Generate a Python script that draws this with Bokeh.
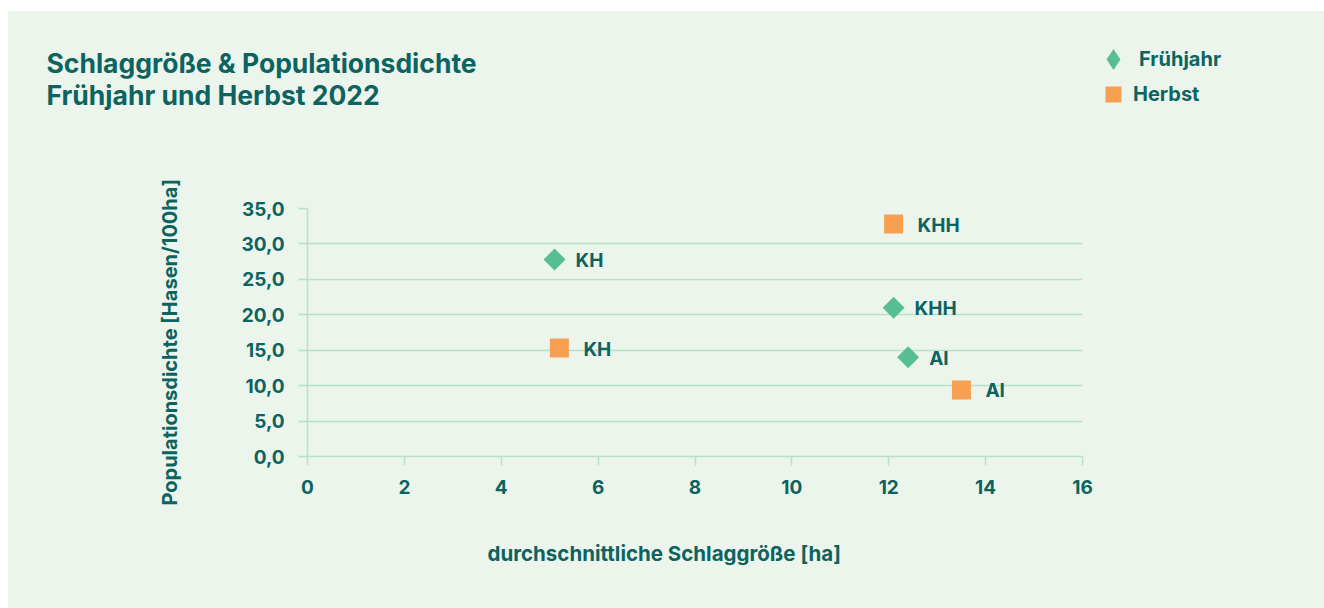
import numpy as np
from bokeh.plotting import figure
from bokeh.layouts import column
from bokeh.models import (Range1d, FixedTicker, Legend, LegendItem, ColumnDataSource,
                          Title, Label)
from bokeh.core.properties import value
from bokeh.embed import file_html
from bokeh.resources import INLINE

# ---- data ----
regions_fj = ["KH", "KHH", "AI"]
fj_size = [5.1, 12.1, 12.4]        # durchschnittliche Schlaggröße [ha]
fj_density = [27.8, 21.0, 14.0]    # Hasen/100ha

regions_hb = ["KH", "KHH", "AI"]
hb_size = [5.2, 12.1, 13.5]
hb_density = [15.3, 32.8, 9.4]

x_ticks = [0, 2, 4, 6, 8, 10, 12, 14, 16]
y_ticks = [0, 5, 10, 15, 20, 25, 30, 35]
y_tick_labels = ["0,0", "5,0", "10,0", "15,0", "20,0", "25,0", "30,0", "35,0"]

title_lines = ["Schlaggröße & Populationsdichte", "Frühjahr und Herbst 2022"]
x_label = "durchschnittliche Schlaggröße [ha]"
y_label = "Populationsdichte [Hasen/100ha]"
series_names = ["Frühjahr", "Herbst"]

# ---- style ----
FONT = "Inter"
TEXT = "#0c6360"
GREEN = "#57be93"
ORANGE = "#f7a052"
GRID = "#b6e0cb"
BG = "#ebf5ec"

PX, PY = 8, 11            # page position of the panel
W = 1316
TOP_H = 150               # header strip (title + legend)
MAIN_H = 597 - TOP_H
FL, FR, FT, FB = 307, 1082, 208, 456  # plot frame in page px
XMAX, YMAX = 16, 35

src_fj = ColumnDataSource(dict(x=fj_size, y=fj_density, name=regions_fj))
src_hb = ColumnDataSource(dict(x=hb_size, y=hb_density, name=regions_hb))

# ================= header strip =================
top = figure(width=W, height=TOP_H, output_backend="svg", toolbar_location=None,
             x_range=Range1d(0, W), y_range=Range1d(TOP_H, 0),
             x_axis_type=None, y_axis_type=None,
             min_border_left=0, min_border_right=0, min_border_top=0, min_border_bottom=0)
top.frame_align = False
top.background_fill_color = BG
top.border_fill_color = BG
top.outline_line_color = None
top.grid.visible = False
top.title.visible = False

for line, cy in zip(title_lines, [62, 94]):
    top.add_layout(Label(x=46 - PX, y=cy - PY, text=line, text_font=FONT,
                         text_font_style="bold", text_font_size="26.5px",
                         text_color=TEXT, text_baseline="middle", text_align="left"))

# legend-only renderers: a single NaN point, so nothing is drawn in the strip
legend_src = ColumnDataSource(dict(x=[np.nan], y=[np.nan]))
r_leg_fj = top.scatter("x", "y", source=legend_src, marker="diamond",
                       fill_color=GREEN, line_color=None)
r_leg_hb = top.scatter("x", "y", source=legend_src, marker="square",
                       fill_color=ORANGE, line_color=None)

def make_legend(name, renderer, glyph, cx, cy, label_left):
    left = cx - glyph / 2 - PX
    bottom_from_top = cy + glyph / 2 - PY
    lg = Legend(items=[LegendItem(label=name, renderers=[renderer])],
                location=(left, TOP_H - bottom_from_top),
                glyph_width=glyph, glyph_height=glyph,
                label_standoff=int(round(label_left - PX - (left + glyph))),
                padding=0, margin=0, spacing=0,
                background_fill_alpha=0, border_line_alpha=0,
                label_text_font=FONT, label_text_font_style="bold",
                label_text_font_size="20px", label_text_color=TEXT)
    top.add_layout(lg, "center")

make_legend(series_names[0], r_leg_fj, 52, 1113, 59, 1131)
make_legend(series_names[1], r_leg_hb, 40, 1113, 94, 1131)

# ================= main chart =================
p = figure(width=W, height=MAIN_H, output_backend="svg", toolbar_location=None,
           x_range=Range1d(0, XMAX), y_range=Range1d(0, YMAX),
           min_border_left=FL - PX, min_border_right=PX + W - FR,
           min_border_top=FT - (PY + TOP_H), min_border_bottom=PY + TOP_H + MAIN_H - FB)
p.frame_align = False
p.background_fill_color = BG
p.border_fill_color = BG
p.outline_line_color = None
p.title.visible = False

p.xgrid.visible = False
p.ygrid.grid_line_color = GRID
p.ygrid.grid_line_width = 1.5
p.ygrid.ticker = FixedTicker(ticks=y_ticks)

for ax in (p.xaxis[0], p.yaxis[0]):
    ax.axis_line_color = GRID
    ax.axis_line_width = 1.5
    ax.major_tick_line_color = GRID
    ax.major_tick_line_width = 1.5
    ax.major_tick_in = 0
    ax.major_tick_out = 9
    ax.minor_tick_line_color = None
    ax.major_label_text_font = FONT
    ax.major_label_text_font_style = "bold"
    ax.major_label_text_font_size = "19px"
    ax.major_label_text_color = TEXT

p.xaxis.ticker = FixedTicker(ticks=x_ticks)
p.xaxis.major_label_standoff = 14
p.yaxis.ticker = FixedTicker(ticks=y_ticks)
p.yaxis.major_label_overrides = {t: l for t, l in zip(y_ticks, y_tick_labels)}
p.yaxis.major_label_standoff = 14

p.scatter("x", "y", source=src_fj, marker="square", size=15.5, angle=np.pi / 4,
          fill_color=GREEN, line_color=None)
p.scatter("x", "y", source=src_hb, marker="square", size=19,
          fill_color=ORANGE, line_color=None)

p.text("x", "y", text="name", source=src_fj, x_offset=21, y_offset=1,
       text_font=value(FONT), text_font_style="bold", text_font_size="19px",
       text_color=TEXT, text_baseline="middle", text_align="left")
p.text("x", "y", text="name", source=src_hb, x_offset=24, y_offset=1,
       text_font=value(FONT), text_font_style="bold", text_font_size="19px",
       text_color=TEXT, text_baseline="middle", text_align="left")

# axis labels as side titles
p.add_layout(Title(text=x_label, align="left", offset=487 - FL, standoff=84,
                   text_font=FONT, text_font_style="bold", text_font_size="20.5px",
                   text_color=TEXT), "below")
p.add_layout(Title(text=y_label, align="left", offset=FB - 505, standoff=113,
                   text_font=FONT, text_font_style="bold", text_font_size="20px",
                   text_color=TEXT), "left")

layout = column(top, p, spacing=0)
layout.margin = (PY, 0, 0, PX)
layout.styles = {"background-color": BG}
open("out.html", "w").write(file_html(layout, INLINE))
